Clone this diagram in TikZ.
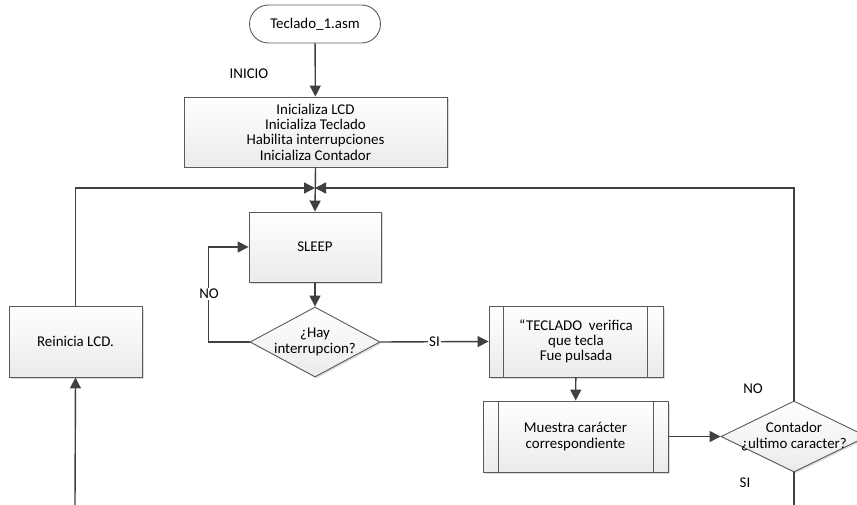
\documentclass[tikz,border=0pt]{standalone}
\usepackage{fontspec}
\setmainfont{Carlito}
\usetikzlibrary{arrows.meta,shapes.geometric,shadows}
\definecolor{wire}{HTML}{404040}
\definecolor{frame}{HTML}{5A5A5A}
\tikzset{
  shade/.style={top color=white, bottom color=gray!16,
    drop shadow={shadow xshift=1.5pt, shadow yshift=-1.5pt, fill=gray!40, opacity=0.7}},
  procbox/.style={shade, draw=frame, line width=0.9pt, align=center, inner sep=0pt},
  termbox/.style={draw=frame, line width=0.9pt, fill=white, rounded corners=19pt,
    minimum width=131pt, minimum height=38pt, inner sep=0pt},
  decision/.style={shade, draw=frame, line width=0.9pt, diamond, inner sep=0pt},
  wireline/.style={draw=wire, line width=1.4pt},
  arrow/.style={wireline, -{Triangle[length=11pt,width=11pt]}},
  tag/.style={fill=white, inner sep=1pt},
}
\begin{document}
\begin{tikzpicture}[x=1pt, y=-1pt, font=\fontsize{14.9}{15.3}\selectfont]
\useasboundingbox (0,0) rectangle (857,505);

% start terminal and initialisation
\node[termbox] (start) at (315,24) {Teclado\_1.asm};
\node (inicio) at (249,74) {INICIO};
\node[procbox, minimum width=263pt, minimum height=70pt] (init) at (315.5,132)
  {Inicializa LCD\\Inicializa Teclado\\Habilita interrupciones\\Inicializa Contador};
\coordinate (join) at (315,188);

% main loop
\node[procbox, minimum width=132pt, minimum height=70pt] (sleep) at (315,247) {SLEEP};
\node[decision, minimum width=130pt, minimum height=70pt] (q1) at (315,342) {};
\node[align=center] (q1t) at (q1) {¿Hay\\interrupcion?};

\node[procbox, minimum width=133pt, minimum height=71pt] (reset) at (75.5,341.5) {Reinicia LCD.};

% predefined processes
\node[procbox, minimum width=174pt, minimum height=71pt] (kbd) at (576,341.5)
  {“TECLADO\ \ verifica\\que tecla\\Fue pulsada};
\draw[frame, line width=0.9pt] ([xshift=15pt]kbd.north west) -- ([xshift=15pt]kbd.south west);
\draw[frame, line width=0.9pt] ([xshift=-16pt]kbd.north east) -- ([xshift=-16pt]kbd.south east);

\node[procbox, minimum width=185pt, minimum height=71pt] (show) at (575.5,436.5)
  {Muestra carácter\\correspondiente};
\draw[frame, line width=0.9pt] ([xshift=16pt]show.north west) -- ([xshift=16pt]show.south west);
\draw[frame, line width=0.9pt] ([xshift=-15pt]show.north east) -- ([xshift=-15pt]show.south east);

\node[decision, minimum width=146pt, minimum height=71pt] (q2) at (794,436.5) {};
\node[align=center] (q2t) at (q2) {Contador\\¿ultimo caracter?};

% connectors
\draw[arrow] (start) -- (init);
\draw[arrow] (init.south) -- (sleep.north);
\draw[arrow] (reset.north) |- (join);
\draw[arrow] (q2.north) |- (join);
\draw[arrow] (sleep) -- (q1);
\draw[arrow] (q1.west) -- ++(-41,0) coordinate (nocorner) |- (sleep.west);
\node[tag] (no1) at (209,294) {NO};
\draw[arrow] (q1.east) -- node[tag] (si1) {SI} (kbd.west);
\draw[arrow] (kbd) -- (show);
\draw[arrow] (show) -- (q2);

\coordinate (leftin) at (75,505);
\draw[arrow] (leftin) -- (reset.south);
\coordinate (rightout) at (794,505);
\draw[wireline] (q2.south) -- (rightout);

\node (no2) at (753,389) {NO};
\node (si2) at (745,483) {SI};
\end{tikzpicture}
\end{document}
